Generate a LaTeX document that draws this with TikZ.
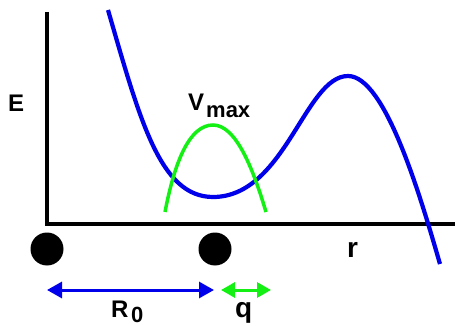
\documentclass[tikz,border=0pt]{standalone}
\usepackage{fontspec}
\setmainfont{Liberation Sans}
\usetikzlibrary{arrows.meta}
\definecolor{cblue}{RGB}{0,0,235}
\definecolor{cgreen}{RGB}{20,240,20}
\begin{document}
\begin{tikzpicture}[x=1pt,y=-1pt,
  lab/.style={inner sep=0pt, anchor=base west, font=\fontsize{24}{24}\selectfont\bfseries},
  lablow/.style={inner sep=0pt, anchor=base west, font=\fontsize{28}{28}\selectfont\bfseries},
  sub/.style={inner sep=0pt, anchor=base west, font=\fontsize{22}{22}\selectfont\bfseries},
  ball/.style={circle, fill=black, minimum size=33pt, inner sep=0pt},
  axis/.style={line width=4.5pt, black},
  bcurve/.style={line width=4.2pt, cblue},
  gcurve/.style={line width=3.5pt, cgreen},
  barrow/.style={line width=3pt, cblue, {Triangle[length=15pt,width=16pt]}-{Triangle[length=15pt,width=16pt]}},
  garrow/.style={line width=3pt, cgreen, {Triangle[length=14pt,width=15pt]}-{Triangle[length=14pt,width=15pt]}}
]
\useasboundingbox (0,0) rectangle (455,326);
% axes
\coordinate (ytop) at (47,12);
\coordinate (O) at (47,224);
\coordinate (xend) at (455,224);
\draw[axis] (ytop) -- (O) -- (xend);
% potential curve
\coordinate (b0) at (108,10);
\coordinate (bmin) at (213,197);
\coordinate (bmax) at (348,76);
\coordinate (bend) at (440,264);
\draw[bcurve] (b0) .. controls (140,120) and (160,197) .. (bmin)
  .. controls (285,197) and (305,76) .. (bmax)
  .. controls (385,76) and (420,195) .. (bend);
% Vmax parabola
\coordinate (g0) at (165,212);
\coordinate (gtop) at (213,125);
\coordinate (gend) at (266,212);
\draw[gcurve] (g0) .. controls (175,160) and (190,125) .. (gtop)
  .. controls (235,125) and (252,165) .. (gend);
% balls
\node[ball] (c1) at (47,249) {};
\node[ball] (c2) at (215,249) {};
% arrows
\coordinate (a1) at (47,290);
\coordinate (a2) at (214,290);
\coordinate (g1) at (221,290);
\coordinate (g2) at (271,290);
\draw[barrow] (a1) -- (a2);
\draw[garrow] (g1) -- (g2);
% labels
\node[lab] (E) at (8,112) {E};
\node[lab] (V) at (188,111) {V};
\node[sub] (max) at (206,118) {max};
\node[lablow] (r) at (347,257) {r};
\node[lab] (R) at (111,317) {R};
\node[sub] (zero) at (131,322) {0};
\node[lablow] (q) at (235,317) {q};
\end{tikzpicture}
\end{document}
